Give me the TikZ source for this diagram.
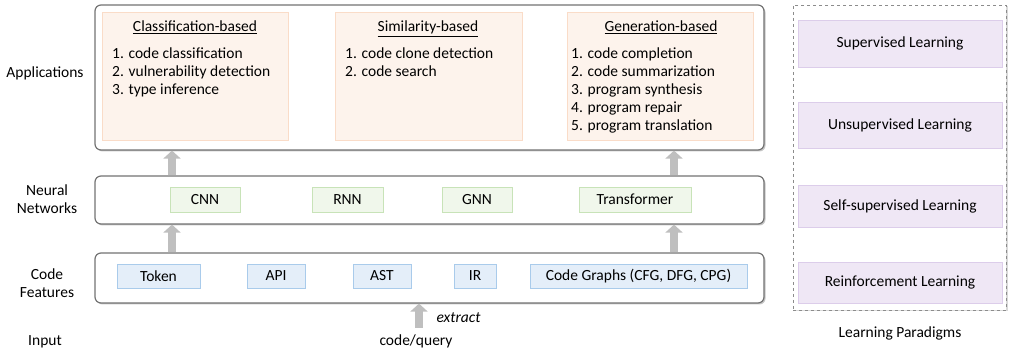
\documentclass[tikz,border=0pt]{standalone}
\usepackage{fontspec}
\setmainfont{Carlito}
\usetikzlibrary{shadows,arrows.meta}

\definecolor{peachfill}{HTML}{FDF3EC}
\definecolor{peachline}{HTML}{FADCC8}
\definecolor{greenfill}{HTML}{F0F7EB}
\definecolor{greenline}{HTML}{C8E3B8}
\definecolor{bluefill}{HTML}{E4EEF9}
\definecolor{blueline}{HTML}{A9CBEB}
\definecolor{purplefill}{HTML}{EFE7F5}
\definecolor{purpleline}{HTML}{DCCDEA}

\begin{document}
\begin{tikzpicture}[x=1pt, y=1pt,
    every node/.style={font=\fontsize{15.5}{18}\selectfont},
    tier/.style={draw=black!55, line width=1.2pt, rounded corners=6pt, fill=white,
      minimum width=669pt, drop shadow={shadow xshift=1.5pt, shadow yshift=-1.5pt, opacity=0.45}},
    appbox/.style={draw=peachline, line width=0.8pt, fill=peachfill, minimum width=186pt, minimum height=128pt},
    nnbox/.style={draw=greenline, line width=0.8pt, fill=greenfill, minimum height=25pt},
    featbox/.style={draw=blueline, line width=0.8pt, fill=bluefill, minimum height=24pt},
    lpbox/.style={draw=purpleline, line width=0.8pt, fill=purplefill, minimum width=204pt},
    title/.style={anchor=base},
    items/.style={anchor=north west, align=left, inner sep=0pt},
    uparrow/.style={draw=black!25, line width=8pt, -{Triangle[width=17pt, length=8pt]}}
  ]
  \useasboundingbox (0,0) rectangle (1009,348);

  % learning paradigms
  \node[draw=black!45, dashed, line width=0.8pt, fill=white, minimum width=213pt, minimum height=305pt,
    drop shadow={shadow xshift=1.5pt, shadow yshift=-1.5pt, opacity=0.3}] (lp) at (899.5,190.5) {};
  \node[lpbox, minimum height=47pt] (sup) at (900,304.5) {Supervised Learning};
  \node[lpbox, minimum height=46pt] (unsup) at (900,223) {Unsupervised Learning};
  \node[lpbox, minimum height=42pt] (self) at (900,142) {Self-supervised Learning};
  \node[lpbox, minimum height=41pt] (rl) at (900,65.5) {Reinforcement Learning};
  \node[title] (lplabel) at (900,10) {Learning Paradigms};

  % applications
  \node[tier, minimum height=145pt] (app) at (429.5,270.5) {};
  \node[appbox] (cls) at (195,272) {};
  \node[appbox, minimum width=187pt] (sim) at (428.5,272) {};
  \node[appbox] (gen) at (660,272) {};
  \node[title] at (195,316) {\underline{Classification-based}};
  \node[title] at (428,316) {\underline{Similarity-based}};
  \node[title] at (661,316) {\underline{Generation-based}};
  \node[items] at (112,300.5) {1. code classification\\2. vulnerability detection\\3. type inference};
  \node[items] at (345,300.5) {1. code clone detection\\2. code search};
  \node[items] at (571,300.5) {1. code completion\\2. code summarization\\3. program synthesis\\4. program repair\\5. program translation};

  % neural networks
  \node[tier, minimum height=48pt] (nn) at (429.5,148) {};
  \node[nnbox, minimum width=70pt] (cnn) at (205,148.5) {CNN};
  \node[nnbox, minimum width=71pt] (rnn) at (347.5,148.5) {RNN};
  \node[nnbox, minimum width=70pt] (gnn) at (477,148.5) {GNN};
  \node[nnbox, minimum width=112pt] (trans) at (635,148.5) {Transformer};

  % code features
  \node[tier, minimum height=50pt] (feat) at (429.5,70) {};
  \node[featbox, minimum width=83pt] (token) at (158.5,72) {Token};
  \node[featbox, minimum width=58pt] (api) at (276,72) {API};
  \node[featbox, minimum width=58pt] (ast) at (382,72) {AST};
  \node[featbox, minimum width=42pt] (ir) at (475,72) {IR};
  \node[featbox, minimum width=217pt] (cg) at (638.5,72) {Code Graphs (CFG, DFG, CPG)};

  % row labels
  \node (lapp) at (45,275) {Applications};
  \node[align=center] (lnn) at (47,149) {Neural\\Networks};
  \node[align=center] (lfeat) at (47,65) {Code\\Features};
  \node[title] (linput) at (45,2) {Input};

  % arrows
  \coordinate (lft) at (172,0);
  \coordinate (rgt) at (674,0);
  \coordinate (src) at (419,20);
  \draw[uparrow] (nn.north -| lft) -- (app.south -| lft);
  \draw[uparrow] (nn.north -| rgt) -- (app.south -| rgt);
  \draw[uparrow] (feat.north -| lft) -- (nn.south -| lft);
  \draw[uparrow] (feat.north -| rgt) -- (nn.south -| rgt);
  \draw[uparrow] (src) -- (src |- feat.south);
  \node[anchor=base west, font=\fontsize{15.5}{18}\selectfont\itshape] (extract) at (433,26) {extract};
  \node[title] (query) at (416,2) {code/query};
\end{tikzpicture}
\end{document}
